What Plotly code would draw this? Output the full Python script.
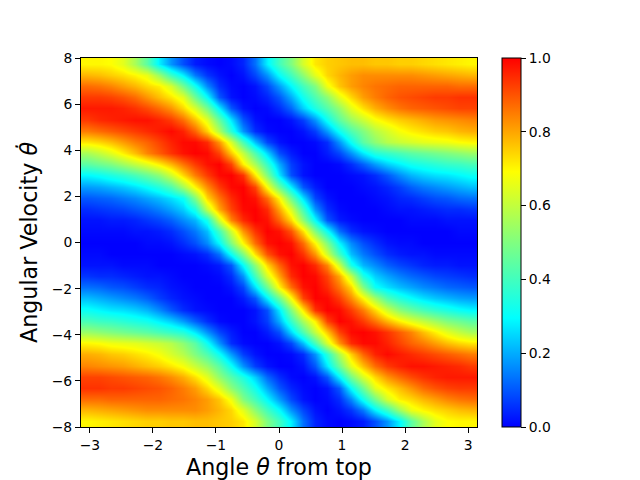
import numpy as np
import plotly.graph_objects as go

# Values, in percent, on a 33 x 33 grid.
# Rows run from the top of the chart (y near 8) down to y = 0, columns from theta = -pi to pi.
upper_rows = [
    [70,70,69,65,56,44,28,17,9,3,1,0,1,4,13,28,40,50,63,72,75,76,77,77,76,76,75,75,74,73,72,71,70],
    [78,77,75,73,70,66,54,39,28,14,6,2,0,2,8,17,30,40,52,65,74,78,81,83,83,83,83,83,82,81,80,79,78],
    [87,86,84,81,78,74,71,63,48,32,16,5,1,0,2,8,18,29,40,50,67,76,81,84,86,87,88,88,88,88,88,87,87],
    [93,93,92,90,87,82,77,72,65,47,30,10,2,0,1,4,10,20,32,42,52,65,74,81,85,88,90,91,92,93,93,94,94],
    [97,97,97,96,94,91,87,82,74,63,48,28,10,2,0,1,5,12,24,34,43,53,65,73,79,83,86,88,89,90,91,92,92],
    [93,95,96,97,98,98,96,93,87,77,65,46,27,10,2,0,0,2,7,17,31,44,54,61,68,72,75,77,79,81,82,83,84],
    [85,87,89,91,93,95,97,99,96,88,75,57,36,17,5,1,0,0,2,7,18,31,42,50,58,63,68,71,73,75,76,78,79],
    [72,74,77,81,85,88,92,96,99,99,95,82,63,41,22,8,2,0,0,1,5,17,31,44,52,58,61,63,65,66,67,69,70],
    [56,60,65,71,77,84,89,94,98,100,99,92,76,60,42,25,9,3,0,0,3,8,17,27,35,38,41,44,46,48,50,52,54],
    [44,47,50,55,60,65,71,78,86,93,98,100,92,71,56,38,20,7,2,0,0,1,5,11,18,24,28,32,34,36,38,39,41],
    [29,31,34,37,41,46,52,62,74,85,93,99,100,94,72,50,27,9,2,0,0,0,1,2,5,10,16,21,24,26,27,29,31],
    [18,19,21,23,26,30,35,42,55,70,83,93,99,100,92,69,47,28,10,3,0,0,0,1,2,4,7,11,14,16,18,20,22],
    [10,11,12,14,16,19,22,26,31,50,74,86,95,100,98,87,70,47,26,8,2,0,0,0,1,2,4,5,7,9,10,12,13],
    [5,6,7,8,10,12,15,19,24,34,60,80,92,99,100,95,80,63,40,17,5,1,0,0,0,1,2,2,3,4,5,5,6],
    [2,2,3,3,4,6,8,11,16,21,33,62,84,95,100,98,88,74,52,30,10,3,1,0,0,0,0,1,1,1,2,2,2],
    [1,1,1,1,2,2,3,5,9,14,22,40,62,82,94,100,98,90,73,50,31,13,5,2,1,0,0,0,0,0,0,1,1],
    [0,0,0,0,0,1,1,2,5,9,16,29,50,70,87,98,100,98,87,70,50,29,16,9,5,2,1,1,0,0,0,0,0],
]
x_ticks = [-3, -2, -1, 0, 1, 2, 3]
y_ticks = [-8, -6, -4, -2, 0, 2, 4, 6, 8]
bar_ticks = [0.0, 0.2, 0.4, 0.6, 0.8, 1.0]

upper = np.array(upper_rows, dtype=float) / 100
# The picture is point-symmetric about the origin, so the lower half repeats the upper one turned by 180 degrees.
z = np.vstack([upper, upper[:-1][::-1, ::-1]])

n_rows, n_cols = z.shape
x_edges = np.linspace(-np.pi, np.pi, n_cols + 1)
y_edges = np.linspace(8, -8, n_rows + 1)
x = (x_edges[:-1] + x_edges[1:]) / 2
y = (y_edges[:-1] + y_edges[1:]) / 2

# jet, cut to run from pure blue to pure red
scale = [
    [0.0, "rgb(0,0,255)"],
    [0.295, "rgb(0,255,255)"],
    [0.5, "rgb(128,255,128)"],
    [0.692, "rgb(255,255,0)"],
    [1.0, "rgb(255,0,0)"],
]

fig = go.Figure(go.Heatmap(
    x=x, y=y, z=z, zmin=0, zmax=1, colorscale=scale, zsmooth="best",
    colorbar=dict(
        x=1.063, xanchor="left", xpad=0, y=0, yanchor="bottom", ypad=0,
        len=1, thickness=19, outlinewidth=1, outlinecolor="black",
        tickmode="array", tickvals=bar_ticks, tickformat=".1f",
        ticks="outside", ticklen=5, tickwidth=1, tickcolor="black",
        tickfont=dict(family="DejaVu Sans", size=13.9, color="black"),
    ),
))

axis = dict(
    showgrid=False, zeroline=False, showline=True, linecolor="black", linewidth=1,
    mirror=True, ticks="outside", ticklen=5, tickwidth=1, tickcolor="black",
    tickfont=dict(family="DejaVu Sans", size=13.9, color="black"),
    tickmode="array", automargin=False,
)
# The page body adds an 8 px offset, which these margins allow for.
fig.update_layout(
    width=640, height=480, margin=dict(l=73, r=171, t=50, b=61),
    paper_bgcolor="white", plot_bgcolor="white",
    xaxis=dict(axis, range=[-np.pi, np.pi], tickvals=x_ticks,
               title=dict(text="Angle <i>θ</i> from top", standoff=7,
                          font=dict(family="DejaVu Sans", size=22.2, color="black"))),
    yaxis=dict(axis, range=[-8, 8], tickvals=y_ticks,
               title=dict(text="Angular Velocity <i>θ̇</i>", standoff=7,
                          font=dict(family="DejaVu Sans", size=22.2, color="black"))),
)
fig.write_html("out.html")
